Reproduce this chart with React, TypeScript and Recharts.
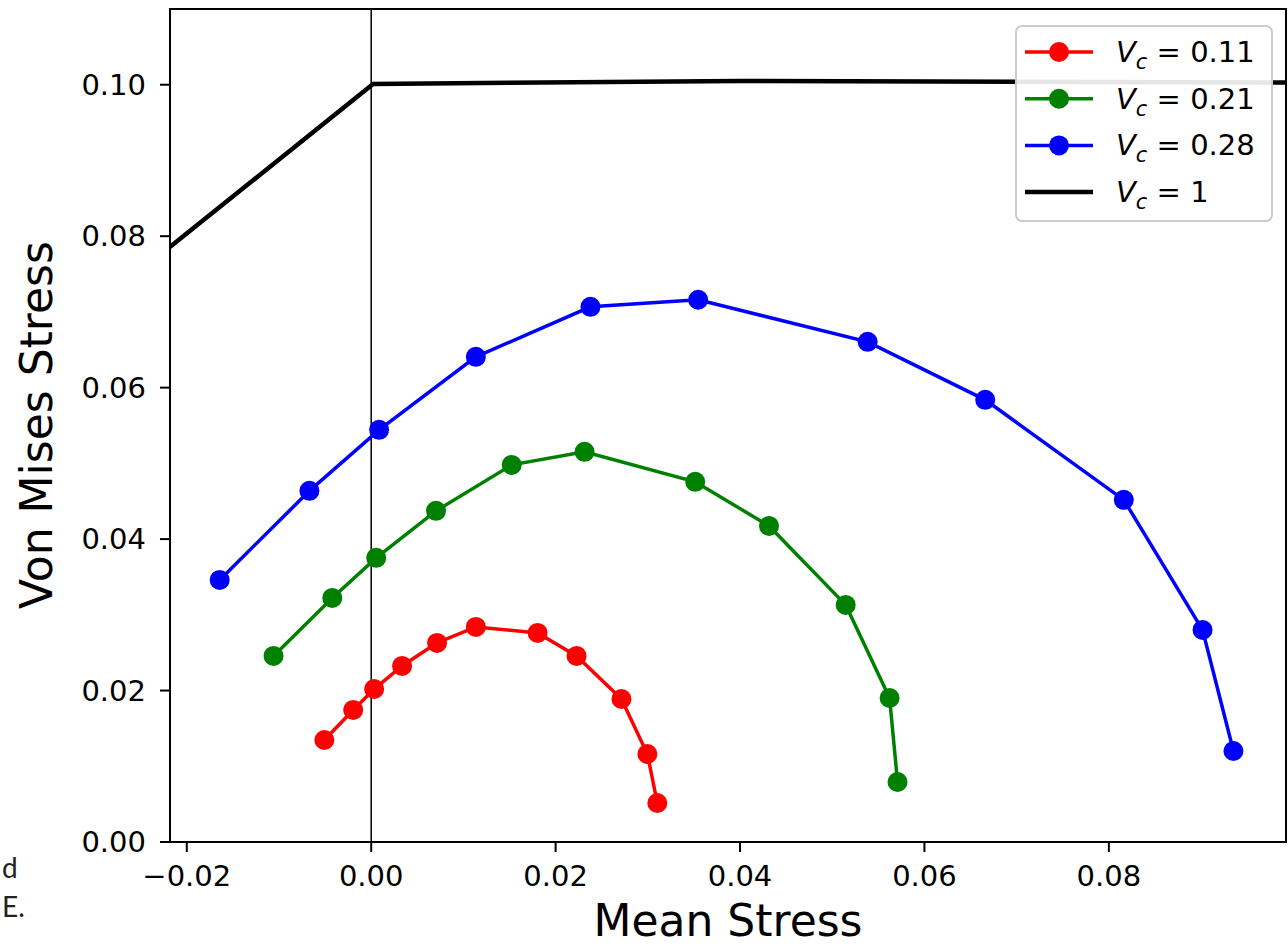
import { LineChart, Line, XAxis, YAxis, ReferenceLine, ReferenceArea } from "recharts";

// Vc = 0.11
const redMean = [-0.00508, -0.00195, 0.00032, 0.00335, 0.00714, 0.01135, 0.01805, 0.02227, 0.02714, 0.02995, 0.03103];
const redVm = [0.01347, 0.01744, 0.0202, 0.02325, 0.02629, 0.0284, 0.02761, 0.02457, 0.01889, 0.01162, 0.00515];
// Vc = 0.21
const greenMean = [-0.01059, -0.00422, 0.00054, 0.00703, 0.01524, 0.02314, 0.03514, 0.04314, 0.05146, 0.05622, 0.05708];
const greenVm = [0.02457, 0.03223, 0.03752, 0.04373, 0.0498, 0.05152, 0.04756, 0.04174, 0.03131, 0.01902, 0.00793];
// Vc = 0.28
const blueMean = [-0.01643, -0.0067, 0.00086, 0.01135, 0.02378, 0.03546, 0.05384, 0.06659, 0.08162, 0.09016, 0.09351];
const blueVm = [0.03461, 0.04637, 0.05443, 0.06407, 0.07067, 0.0716, 0.06605, 0.05839, 0.04518, 0.02801, 0.01202];
// Vc = 1 envelope
const envMean = [-0.022, 0.0002, 0.04, 0.1];
const envVm = [0.0784, 0.1001, 0.1005, 0.1003];

const xTicks = [-0.02, 0, 0.02, 0.04, 0.06, 0.08];
const yTicks = [0, 0.02, 0.04, 0.06, 0.08, 0.1];
const X_DOMAIN: [number, number] = [-0.02182, 0.09921];
const Y_DOMAIN: [number, number] = [0, 0.11];

const zip = (xs: number[], ys: number[]) => xs.map((x, i) => ({ x, y: ys[i] }));

const series = [
  { name: "0.11", color: "#ff0000", data: zip(redMean, redVm) },
  { name: "0.21", color: "#008000", data: zip(greenMean, greenVm) },
  { name: "0.28", color: "#0000ff", data: zip(blueMean, blueVm) },
];

const FONT = "'DejaVu Sans', sans-serif";
const fmtX = (v: number) => (v < 0 ? `\u2212${Math.abs(v).toFixed(2)}` : v.toFixed(2));

const legendRows = [
  { label: "0.11", color: "#ff0000", marker: true },
  { label: "0.21", color: "#008000", marker: true },
  { label: "0.28", color: "#0000ff", marker: true },
  { label: "1", color: "#000000", marker: false },
];

export default function App() {
  return (
    <div style={{ position: "absolute", left: 0, top: 0, width: 1288, height: 946, background: "#fff" }}>
      <LineChart width={1288} height={946} margin={{ top: 9, right: 2, bottom: 0, left: 0 }}>
        <XAxis
          type="number"
          dataKey="x"
          domain={X_DOMAIN}
          allowDataOverflow
          ticks={xTicks}
          tickFormatter={fmtX}
          height={104}
          tickSize={10}
          tickMargin={13}
          axisLine={{ stroke: "#000", strokeWidth: 2 }}
          tickLine={{ stroke: "#000", strokeWidth: 2 }}
          tick={{ fill: "#000", fontSize: 29, fontFamily: FONT }}
        />
        <YAxis
          type="number"
          dataKey="y"
          domain={Y_DOMAIN}
          allowDataOverflow
          ticks={yTicks}
          tickFormatter={(v: number) => v.toFixed(2)}
          width={170}
          tickSize={10}
          tickMargin={14}
          axisLine={{ stroke: "#000", strokeWidth: 2 }}
          tickLine={{ stroke: "#000", strokeWidth: 2 }}
          tick={{ fill: "#000", fontSize: 29, fontFamily: FONT }}
        />
        <ReferenceArea x1={X_DOMAIN[0]} x2={X_DOMAIN[1]} y1={0} y2={0.11} fill="none" stroke="#000" strokeWidth={2} ifOverflow="visible" />
        <ReferenceLine x={0} stroke="#000" strokeWidth={1.5} />
        <Line
          data={zip(envMean, envVm)}
          dataKey="y"
          stroke="#000"
          strokeWidth={4.5}
          dot={false}
          activeDot={false}
          isAnimationActive={false}
        />
        {series.map((s) => (
          <Line
            key={s.name}
            data={s.data}
            dataKey="y"
            stroke={s.color}
            strokeWidth={3.5}
            dot={{ r: 10, fill: s.color, stroke: s.color, strokeWidth: 0 }}
            activeDot={false}
            isAnimationActive={false}
          />
        ))}
      </LineChart>
      <svg width={1288} height={946} style={{ position: "absolute", left: 0, top: 0, pointerEvents: "none" }}>
        <text x={728} y={936} textAnchor="middle" fontSize={44} fontFamily={FONT} fill="#000">
          Mean Stress
        </text>
        <text x={52} y={425} textAnchor="middle" fontSize={44} fontFamily={FONT} fill="#000" transform="rotate(-90 52 425)">
          Von Mises Stress
        </text>
        <text x={2} y={878} fontSize={28} fontFamily="Lato, sans-serif" fill="#222">
          d
        </text>
        <text x={2} y={917} fontSize={28} fontFamily="Lato, sans-serif" fill="#222">
          E.
        </text>
        <rect x={1016} y={26} width={256} height={195} rx={6} fill="#fff" fillOpacity={0.9} stroke="#cccccc" strokeWidth={2} />
        {legendRows.map((r, i) => {
          const cy = 52 + i * 46.7;
          return (
            <g key={r.label}>
              <line x1={1025} x2={1093} y1={cy} y2={cy} stroke={r.color} strokeWidth={r.marker ? 3.5 : 4.5} />
              {r.marker && <circle cx={1059} cy={cy} r={10} fill={r.color} />}
              <text x={1116} y={cy + 10} fontSize={29} fontFamily={FONT} fill="#000">
                <tspan fontStyle="italic">V</tspan>
                <tspan fontStyle="italic" fontSize={21} dy={7}>c</tspan>
                <tspan dy={-7}>{" = " + r.label}</tspan>
              </text>
            </g>
          );
        })}
      </svg>
    </div>
  );
}
